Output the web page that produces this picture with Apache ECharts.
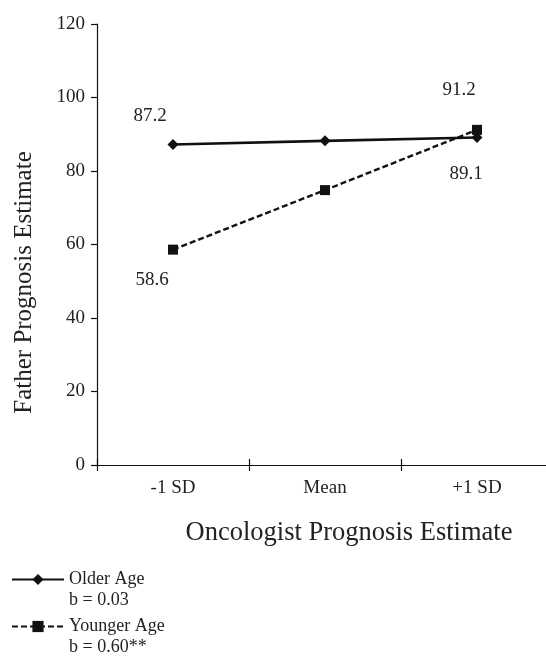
<!DOCTYPE html>
<html><head><meta charset="utf-8">
<script src="https://cdn.jsdelivr.net/npm/echarts@6/dist/echarts.min.js"></script>
<style>html,body{margin:0;padding:0;background:#fff}#c{width:546px;height:656px}</style>
</head><body><div id="c"></div>
<script>
const categories = ['-1 SD', 'Mean', '+1 SD'];
const olderAge = [87.2, 88.2, 89.1];
const youngerAge = [58.6, 74.8, 91.2];
const olderLabels = ['87.2', '', '89.1'];
const youngerLabels = ['58.6', '', '91.2'];
const olderName = 'Older Age\nb = 0.03';
const youngerName = 'Younger Age\nb = 0.60**';
const yTitle = 'Father Prognosis Estimate';
const xTitle = 'Oncologist Prognosis Estimate';

const F = 'Liberation Serif';
const C = '#222';
const chart = echarts.init(document.getElementById('c'));

function pt(vals, labels, offsets) {
  return vals.map((v, i) => ({
    value: v,
    label: labels[i] ? { show: true, formatter: labels[i], offset: offsets[i], position: 'inside',
      fontFamily: F, fontSize: 19, color: C } : { show: false }
  }));
}

chart.setOption({
  animation: false,
  backgroundColor: '#fff',
  grid: { left: 97, top: 24, width: 456, height: 441, containLabel: false, outerBoundsMode: 'none' },
  legend: {
    orient: 'vertical', left: 11, top: 548, height: 140, padding: 0, itemGap: -16,
    itemWidth: 52, itemHeight: 14,
    formatter: name => '\n' + name,
    textStyle: { fontFamily: F, fontSize: 18, color: C, lineHeight: 21 },
    data: [olderName, youngerName]
  },
  xAxis: [{
    type: 'category', data: categories, position: 'bottom',
    axisLine: { lineStyle: { color: '#111', width: 1.2 } },
    axisTick: { show: true, length: 6, lineStyle: { color: '#111', width: 1.2 } },
    axisLabel: { fontFamily: F, fontSize: 19, color: C, margin: 14 },
    name: xTitle, nameLocation: 'middle', nameGap: 55,
    nameTextStyle: { fontFamily: F, fontSize: 26.5, color: C, padding: [0, 0, 0, 48] }
  }, {
    type: 'category', data: categories, position: 'bottom', offset: -6,
    axisLine: { show: false },
    axisTick: { show: true, length: 6, lineStyle: { color: '#111', width: 1.2 } },
    axisLabel: { show: false }
  }],
  yAxis: {
    type: 'value', min: 0, max: 120, interval: 20,
    splitLine: { show: false },
    axisLine: { show: true, lineStyle: { color: '#111', width: 1.2 } },
    axisTick: { show: true, length: 6, lineStyle: { color: '#111', width: 1.2 } },
    axisLabel: { fontFamily: F, fontSize: 19, color: C, margin: 12 },
    name: yTitle, nameLocation: 'middle', nameGap: 60,
    nameTextStyle: { fontFamily: F, fontSize: 25, color: C, padding: [0, 76, 0, 0] }
  },
  series: [{
    name: olderName, type: 'line',
    data: pt(olderAge, olderLabels, [[-23, -29], [0, 0], [-11, 36]]),
    symbol: 'diamond', symbolSize: 11, color: '#111',
    lineStyle: { color: '#111', width: 2.6 },
    itemStyle: { color: '#111' }
  }, {
    name: youngerName, type: 'line',
    data: pt(youngerAge, youngerLabels, [[-21, 30], [0, 0], [-18, -40]]),
    symbol: 'rect', symbolSize: 10, color: '#111',
    lineStyle: { color: '#111', width: 2.4, type: [6, 3] },
    itemStyle: { color: '#111' }
  }]
});
</script></body></html>
